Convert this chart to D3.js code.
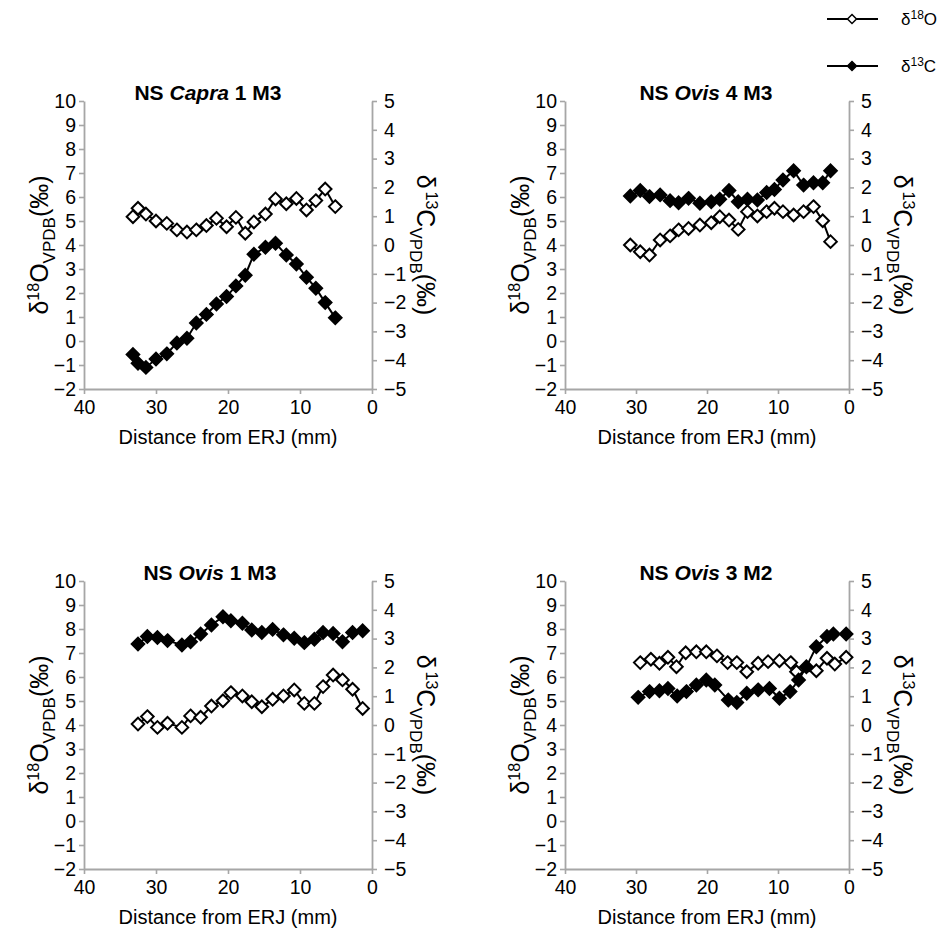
<!DOCTYPE html>
<html><head><meta charset="utf-8">
<script src="https://cdn.jsdelivr.net/npm/d3@7/dist/d3.min.js"></script>
<style>
body{margin:0;background:#fff;}
text{font-family:"Liberation Sans",Arial,sans-serif;}
</style></head>
<body><svg id="c" width="948" height="938"></svg>
<script>
// ---------------- data ----------------
const panelTitles = [["NS ","Capra"," 1 M3"],["NS ","Ovis"," 4 M3"],["NS ","Ovis"," 1 M3"],["NS ","Ovis"," 3 M2"]];

const p1Dist = [33.2,32.5,31.4,30.0,28.5,27.1,25.7,24.4,23.0,21.6,20.2,18.9,17.6,16.4,14.8,13.4,11.9,10.5,9.1,7.8,6.5,5.1];
const p1O = [5.18,5.53,5.29,5.00,4.90,4.63,4.54,4.63,4.81,5.11,4.76,5.15,4.49,4.96,5.29,5.92,5.72,5.94,5.46,5.85,6.33,5.60];
const p1C = [-3.80,-4.11,-4.25,-3.96,-3.78,-3.40,-3.24,-2.71,-2.41,-2.05,-1.79,-1.42,-1.05,-0.32,-0.08,0.06,-0.35,-0.66,-1.12,-1.50,-2.00,-2.53];

const p2Dist = [30.8,29.4,28.1,26.6,25.2,24.0,22.6,21.0,19.4,18.2,16.9,15.6,14.3,12.9,11.6,10.5,9.3,7.8,6.4,5.0,3.7,2.6];
const p2O = [4.00,3.72,3.58,4.21,4.38,4.63,4.69,4.83,4.93,5.18,5.04,4.65,5.39,5.21,5.39,5.53,5.39,5.25,5.39,5.60,5.01,4.14];
const p2C = [1.70,1.89,1.68,1.74,1.54,1.47,1.62,1.45,1.50,1.59,1.89,1.50,1.59,1.56,1.82,1.93,2.26,2.58,2.08,2.16,2.16,2.58];

const p3Dist = [32.5,31.2,29.8,28.4,26.4,25.2,23.8,22.3,20.7,19.6,18.0,16.7,15.3,13.8,12.3,10.8,9.4,8.0,6.8,5.4,4.1,2.7,1.3];
const p3O = [4.04,4.35,3.90,4.07,3.90,4.38,4.32,4.79,5.01,5.35,5.21,4.97,4.76,5.07,5.21,5.46,4.90,4.90,5.60,6.08,5.88,5.49,4.69];
const p3C = [2.81,3.07,3.04,2.93,2.78,2.89,3.16,3.47,3.76,3.62,3.53,3.30,3.21,3.32,3.13,3.01,2.86,2.98,3.21,3.18,2.89,3.21,3.27];

const p4DistO = [29.4,27.9,26.7,25.5,24.3,23.0,21.5,20.1,18.6,17.1,15.8,14.4,12.8,11.4,9.8,8.2,7.4,4.6,3.1,2.0,0.4];
const p4O = [6.60,6.74,6.57,6.82,6.43,7.01,7.05,7.05,6.88,6.60,6.60,6.22,6.57,6.64,6.68,6.60,6.22,6.26,6.78,6.54,6.82];
const p4DistC = [29.7,28.1,26.7,25.5,24.2,22.9,21.5,20.1,18.9,17.0,15.8,14.4,12.8,11.2,9.8,8.3,7.1,6.0,4.6,3.1,2.2,0.4];
const p4C = [0.96,1.16,1.19,1.27,1.01,1.16,1.39,1.56,1.39,0.87,0.78,1.10,1.22,1.27,0.93,1.16,1.56,2.02,2.72,3.07,3.16,3.16];

const xTicks = [40,30,20,10,0];
const leftTicks = [-2,-1,0,1,2,3,4,5,6,7,8,9,10];
const rightTicks = [-5,-4,-3,-2,-1,0,1,2,3,4,5];
const xLabel = "Distance from ERJ (mm)";

// ---------------- layout ----------------
const layout = [
  {x0:84, x1:372, y0:101, y1:389, tx:208, ty:100},
  {x0:565, x1:849, y0:101, y1:389, tx:706, ty:100},
  {x0:84, x1:372, y0:581, y1:869, tx:210, ty:580},
  {x0:565, x1:849, y0:581, y1:869, tx:706, ty:580}
];
const panels = [
  {O:{d:p1Dist,v:p1O}, C:{d:p1Dist,v:p1C}},
  {O:{d:p2Dist,v:p2O}, C:{d:p2Dist,v:p2C}},
  {O:{d:p3Dist,v:p3O}, C:{d:p3Dist,v:p3C}},
  {O:{d:p4DistO,v:p4O}, C:{d:p4DistC,v:p4C}}
];

const svg = d3.select("#c");
const AX = "#a6a6a6";
const R = 6.3;
const diamond = `M0,${-R}L${R},0L0,${R}L${-R},0Z`;

function styleAxis(g){
  g.selectAll(".domain").attr("stroke",AX).attr("stroke-width",1.8);
  g.selectAll(".tick line").attr("stroke",AX).attr("stroke-width",1.6);
  g.selectAll(".tick text").attr("fill","#000").style("font-size","19.5px").style("font-family","'Liberation Sans',Arial,sans-serif");
}

function series(g, data, x, y, filled){
  const pts = data.d.map((d,i)=>[d,data.v[i]]);
  g.append("path").datum(pts)
    .attr("fill","none").attr("stroke","#000").attr("stroke-width",2)
    .attr("d", d3.line().x(p=>x(p[0])).y(p=>y(p[1])));
  g.selectAll(null).data(pts).enter().append("path")
    .attr("d",diamond)
    .attr("transform",p=>`translate(${x(p[0])},${y(p[1])})`)
    .attr("fill",filled?"#000":"#fff").attr("stroke","#000").attr("stroke-width",2);
}

panels.forEach((p,i)=>{
  const L = layout[i];
  const x = d3.scaleLinear().domain([40,0]).range([L.x0,L.x1]);
  const yL = d3.scaleLinear().domain([-2,10]).range([L.y1,L.y0]);
  const yR = d3.scaleLinear().domain([-5,5]).range([L.y1,L.y0]);
  const g = svg.append("g");

  const gx = g.append("g").attr("transform",`translate(0,${L.y1})`)
    .call(d3.axisBottom(x).tickValues(xTicks).tickSize(5).tickSizeOuter(0).tickPadding(6));
  styleAxis(gx);
  const gl = g.append("g").attr("transform",`translate(${L.x0},0)`)
    .call(d3.axisLeft(yL).tickValues(leftTicks).tickSize(5).tickSizeOuter(0).tickPadding(3));
  styleAxis(gl);
  const gr = g.append("g").attr("transform",`translate(${L.x1},0)`)
    .call(d3.axisRight(yR).tickValues(rightTicks).tickSize(5).tickSizeOuter(0).tickPadding(7));
  styleAxis(gr);

  // titles
  const t = g.append("text").attr("x",L.tx).attr("y",L.ty).attr("text-anchor","middle")
    .style("font-size","21px").style("font-weight","bold");
  t.append("tspan").text(panelTitles[i][0]);
  t.append("tspan").style("font-style","italic").text(panelTitles[i][1]);
  t.append("tspan").text(panelTitles[i][2]);

  // x label
  g.append("text").attr("x",(L.x0+L.x1)/2).attr("y",L.y1+55).attr("text-anchor","middle")
    .style("font-size","20px").text(xLabel);

  // left axis title
  const cy = (L.y0+L.y1)/2;
  const lt = g.append("text").attr("transform",`translate(${L.x0-36},${cy}) rotate(-90)`)
    .attr("text-anchor","middle").style("font-size","25px");
  lt.append("tspan").text("δ");
  lt.append("tspan").attr("dy",-9).style("font-size","16px").text("18");
  lt.append("tspan").attr("dy",9).text("O");
  lt.append("tspan").attr("dy",7).style("font-size","17px").text("VPDB");
  lt.append("tspan").attr("dy",-7).text("(‰)");

  // right axis title
  const rt = g.append("text").attr("transform",`translate(${L.x1+45},${cy}) rotate(90)`)
    .attr("text-anchor","middle").style("font-size","25px");
  rt.append("tspan").text("δ");
  rt.append("tspan").attr("dy",-9).attr("dx",3).style("font-size","16px").text("13");
  rt.append("tspan").attr("dy",9).text("C");
  rt.append("tspan").attr("dy",7).style("font-size","17px").text("VPDB");
  rt.append("tspan").attr("dy",-7).text("(‰)");

  series(g, p.O, x, yL, false);
  series(g, p.C, x, yR, true);
});

// legend
const legendItems = [{label:"18",el:"O",filled:false,y:19},{label:"13",el:"C",filled:true,y:66}];
const lg = svg.append("g");
legendItems.forEach(it=>{
  lg.append("line").attr("x1",827).attr("x2",878).attr("y1",it.y).attr("y2",it.y).attr("stroke","#000").attr("stroke-width",2);
  const r=4.5;
  lg.append("path").attr("d",`M0,${-r}L${r},0L0,${r}L${-r},0Z`).attr("transform",`translate(852,${it.y})`)
    .attr("fill",it.filled?"#000":"#fff").attr("stroke","#000").attr("stroke-width",1.5);
  const tx = lg.append("text").attr("x",901).attr("y",it.y+6).style("font-size","17px");
  tx.append("tspan").text("δ");
  tx.append("tspan").attr("dy",-6).style("font-size","12px").text(it.label);
  tx.append("tspan").attr("dy",6).text(it.el);
});
</script></body></html>
